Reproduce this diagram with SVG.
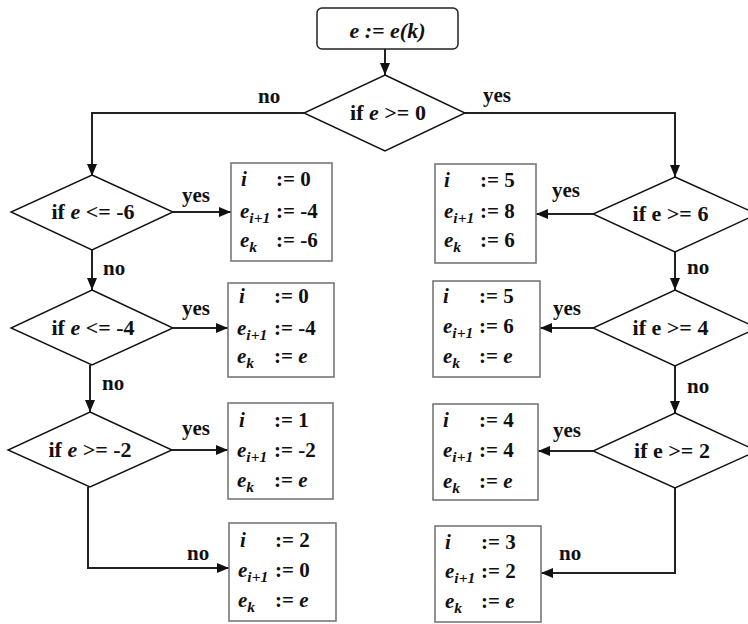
<svg xmlns="http://www.w3.org/2000/svg" width="748" height="624" viewBox="0 0 748 624">
<defs>
<style>
.t{font-family:"Liberation Serif","Times New Roman",serif;font-weight:bold;font-size:21px;fill:#111}
.c{text-anchor:middle;font-size:22px}
.it{font-style:italic}
.sub{font-size:15.5px;font-style:italic}
.dia{fill:#fff;stroke:#111;stroke-width:1.4}
.box{fill:#fff;stroke:#777;stroke-width:1.6}
.con{fill:none;stroke:#222;stroke-width:2;marker-end:url(#ah)}
</style>
<marker id="ah" markerUnits="userSpaceOnUse" markerWidth="14" markerHeight="12" refX="12" refY="5" orient="auto">
<path d="M0,0 L12,5 L0,10 Z" fill="#111"/>
</marker>
</defs>
<rect width="748" height="624" fill="#fff"/>

<g id="connectors">
<path class="con" d="M385,49 V75"/>
<path class="con" d="M304,113 H92 V176"/>
<path class="con" d="M465,113 H675 V177"/>
<path class="con" d="M173,212 H231"/>
<path class="con" d="M92,250 V290"/>
<path class="con" d="M173,328 H228"/>
<path class="con" d="M90,365 V412"/>
<path class="con" d="M172,450 H228"/>
<path class="con" d="M88,487 V568 H229"/>
<path class="con" d="M593,214 H536"/>
<path class="con" d="M675,252 V290"/>
<path class="con" d="M593,328 H540"/>
<path class="con" d="M675,366 V413"/>
<path class="con" d="M593,451 H538"/>
<path class="con" d="M675,488 V573 H541"/>
</g>

<g id="labels" class="t">
<text x="258" y="103">no</text>
<text x="483" y="102">yes</text>
<text x="182" y="202">yes</text>
<text x="103" y="275">no</text>
<text x="182" y="315">yes</text>
<text x="102" y="390">no</text>
<text x="182" y="435">yes</text>
<text x="187" y="560">no</text>
<text x="552" y="197">yes</text>
<text x="687" y="274">no</text>
<text x="553" y="315">yes</text>
<text x="687" y="393">no</text>
<text x="553" y="437">yes</text>
<text x="559" y="560">no</text>
</g>

<g id="start">
<rect x="317" y="8" width="141" height="41" rx="5" fill="#fff" stroke="#222" stroke-width="1.5"/>
<text class="t c it" x="387.5" y="38">e := e(k)</text>
</g>

<g id="d0">
<polygon class="dia" points="385,75 465,113 385,151 304,113"/>
<text class="t c" x="388" y="120">if <tspan class="it">e</tspan> &gt;= 0</text>
</g>

<g id="dL1">
<polygon class="dia" points="92,175 173,212 92,250 11,212"/>
<text class="t c" x="93" y="219">if <tspan class="it">e</tspan> &lt;= -6</text>
</g>
<g id="dL2">
<polygon class="dia" points="92,290 173,328 92,365 11,328"/>
<text class="t c" x="93" y="335">if <tspan class="it">e</tspan> &lt;= -4</text>
</g>
<g id="dL3">
<polygon class="dia" points="90,412 172,450 90,487 8,450"/>
<text class="t c" x="90" y="457">if <tspan class="it">e</tspan> &gt;= -2</text>
</g>

<g id="dR1">
<polygon class="dia" points="675,177 757,214 675,252 593,214"/>
<text class="t c" x="670.5" y="221">if e &gt;= 6</text>
</g>
<g id="dR2">
<polygon class="dia" points="675,290 757,328 675,366 593,328"/>
<text class="t c" x="670.5" y="335">if e &gt;= 4</text>
</g>
<g id="dR3">
<polygon class="dia" points="675,413 757,451 675,488 593,451"/>
<text class="t c" x="672" y="458">if e &gt;= 2</text>
</g>

<g id="bL1">
<rect class="box" x="231" y="163" width="101" height="98"/>
<text class="t it" x="241" y="186">i</text><text class="t" x="276" y="186">:= 0</text>
<text class="t it" x="240" y="218">e<tspan class="sub" dy="5">i+1</tspan></text><text class="t" x="276" y="218">:= -4</text>
<text class="t it" x="240" y="247">e<tspan class="sub" dy="5">k</tspan></text><text class="t" x="276" y="247">:= -6</text>
</g>
<g id="bL2">
<rect class="box" x="228" y="283" width="106" height="94"/>
<text class="t it" x="239" y="303">i</text><text class="t" x="274" y="303">:= 0</text>
<text class="t it" x="237" y="335">e<tspan class="sub" dy="5">i+1</tspan></text><text class="t" x="274" y="335">:= -4</text>
<text class="t it" x="237" y="363">e<tspan class="sub" dy="5">k</tspan></text><text class="t" x="274" y="363">:= <tspan class="it">e</tspan></text>
</g>
<g id="bL3">
<rect class="box" x="228" y="403" width="105" height="96"/>
<text class="t it" x="239" y="427">i</text><text class="t" x="274" y="427">:= 1</text>
<text class="t it" x="237" y="457">e<tspan class="sub" dy="5">i+1</tspan></text><text class="t" x="274" y="457">:= -2</text>
<text class="t it" x="237" y="487">e<tspan class="sub" dy="5">k</tspan></text><text class="t" x="274" y="487">:= <tspan class="it">e</tspan></text>
</g>
<g id="bL4">
<rect class="box" x="229" y="523" width="107" height="98"/>
<text class="t it" x="240" y="547">i</text><text class="t" x="275" y="547">:= 2</text>
<text class="t it" x="238" y="577">e<tspan class="sub" dy="5">i+1</tspan></text><text class="t" x="275" y="577">:= 0</text>
<text class="t it" x="238" y="607">e<tspan class="sub" dy="5">k</tspan></text><text class="t" x="275" y="607">:= <tspan class="it">e</tspan></text>
</g>

<g id="bR1">
<rect class="box" x="435" y="164" width="101" height="99"/>
<text class="t it" x="444" y="187">i</text><text class="t" x="480" y="187">:= 5</text>
<text class="t it" x="444" y="218">e<tspan class="sub" dy="5">i+1</tspan></text><text class="t" x="480" y="218">:= 8</text>
<text class="t it" x="444" y="247">e<tspan class="sub" dy="5">k</tspan></text><text class="t" x="480" y="247">:= 6</text>
</g>
<g id="bR2">
<rect class="box" x="433" y="281" width="107" height="96"/>
<text class="t it" x="443" y="303">i</text><text class="t" x="479" y="303">:= 5</text>
<text class="t it" x="443" y="333">e<tspan class="sub" dy="5">i+1</tspan></text><text class="t" x="479" y="333">:= 6</text>
<text class="t it" x="443" y="363">e<tspan class="sub" dy="5">k</tspan></text><text class="t" x="479" y="363">:= <tspan class="it">e</tspan></text>
</g>
<g id="bR3">
<rect class="box" x="433" y="404" width="105" height="96"/>
<text class="t it" x="443" y="427">i</text><text class="t" x="479" y="427">:= 4</text>
<text class="t it" x="443" y="457">e<tspan class="sub" dy="5">i+1</tspan></text><text class="t" x="479" y="457">:= 4</text>
<text class="t it" x="443" y="488">e<tspan class="sub" dy="5">k</tspan></text><text class="t" x="479" y="488">:= <tspan class="it">e</tspan></text>
</g>
<g id="bR4">
<rect class="box" x="435" y="526" width="106" height="96"/>
<text class="t it" x="445" y="549">i</text><text class="t" x="481" y="549">:= 3</text>
<text class="t it" x="445" y="578">e<tspan class="sub" dy="5">i+1</tspan></text><text class="t" x="481" y="578">:= 2</text>
<text class="t it" x="445" y="608">e<tspan class="sub" dy="5">k</tspan></text><text class="t" x="481" y="608">:= <tspan class="it">e</tspan></text>
</g>
</svg>
